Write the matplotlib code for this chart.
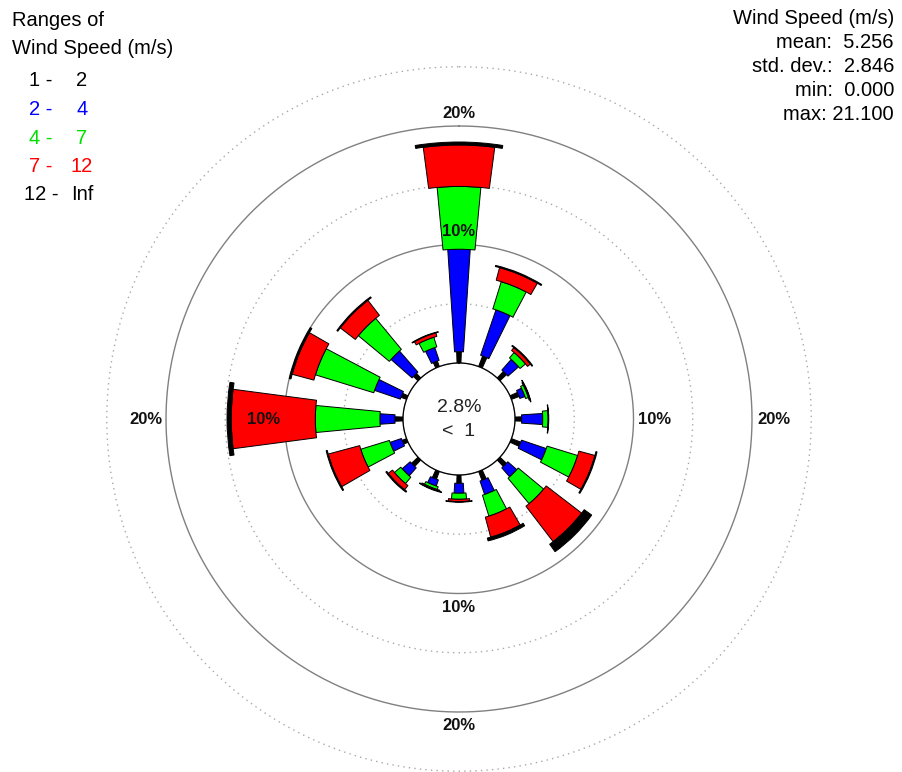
import numpy as np
import matplotlib.pyplot as plt

plt.rcParams['font.family'] = ['Liberation Sans', 'DejaVu Sans']

# wind rose data (% of hours), 16 directions clockwise from north
directions = ['N', 'NNE', 'NE', 'ENE', 'E', 'ESE', 'SE', 'SSE',
              'S', 'SSW', 'SW', 'WSW', 'W', 'WNW', 'NW', 'NNW']
calm_pct = 2.8
calm_label = '<  1'

class_labels = ['1 -    2', '2 -    4', '4 -    7', '7 -  12', '12 -  Inf']
class_colors = ['black', '#0000ff', '#00ff00', '#ff0000', 'black']
legend_colors = ['black', '#0000ff', '#00e000', '#ff0000', 'black']

freq_1_2 = [0.95, 0.95, 0.76, 0.69, 0.56, 0.84, 0.75, 0.80,
            0.70, 0.70, 0.75, 0.40, 0.68, 0.50, 0.53, 0.50]
freq_2_4 = [8.65, 4.05, 1.20, 0.46, 1.78, 2.21, 1.01, 1.20,
            0.84, 0.55, 0.90, 1.02, 1.27, 2.30, 2.37, 1.14]
freq_4_7 = [5.30, 2.40, 0.60, 0.25, 0.47, 2.70, 2.79, 1.85,
            0.51, 0.25, 0.70, 2.53, 5.45, 5.15, 3.40, 0.85]
freq_7_12 = [3.50, 1.10, 0.31, 0.08, 0.00, 1.40, 3.77, 1.75,
             0.20, 0.10, 0.45, 2.75, 7.10, 1.90, 1.60, 0.31]
freq_12_inf = [0.25, 0.10, 0.08, 0.04, 0.04, 0.10, 0.78, 0.25,
               0.05, 0.05, 0.10, 0.10, 0.35, 0.15, 0.10, 0.05]

stats_lines = ['Wind Speed (m/s)', 'mean:  5.256', 'std. dev.:  2.846',
               'min:  0.000', 'max: 21.100']

solid_rings = [10, 20]
dotted_rings = [5, 15, 25]

# layout (pixels)
W, H = 903, 772
cx, cy = 459, 419
px_per_pct = 11.85
calm_px = 56
r_max = 25

fig = plt.figure(figsize=(W / 100, H / 100), dpi=100)
r0 = calm_px / px_per_pct
rad = (r_max + r0) * px_per_pct
ax = fig.add_axes([(cx - rad) / W, (H - cy - rad) / H, 2 * rad / W, 2 * rad / H],
                  projection='polar')
ax.set_theta_zero_location('N')
ax.set_theta_direction(-1)
ax.set_rorigin(-r0)
ax.set_ylim(0, r_max)
ax.grid(False)
ax.set_xticks([])
ax.set_yticks([])
for sp in ax.spines.values():
    sp.set_visible(False)
ax.patch.set_visible(False)

ring = np.linspace(0, 2 * np.pi, 400)
ax.plot(ring, np.zeros_like(ring), color='#808080', lw=1, clip_on=False)
for r in solid_rings:
    ax.plot(ring, np.full_like(ring, r), color='#808080', lw=1, clip_on=False)
for r in dotted_rings:
    ax.plot(ring, np.full_like(ring, r), color='#a8a8a8', lw=1,
            linestyle=(0, (1, 3)), clip_on=False)

theta = np.deg2rad(np.arange(len(directions)) * 22.5)
widths = np.deg2rad([4, 7.6, 10.8, 15, 18.2])
classes = [freq_1_2, freq_2_4, freq_4_7, freq_7_12, freq_12_inf]
bottom = np.zeros(len(directions))
for vals, col, w in zip(classes, class_colors, widths):
    vals = np.array(vals)
    ax.bar(theta, vals, width=w, bottom=bottom, color=col,
           edgecolor='black', linewidth=0.7, zorder=3)
    bottom += vals

# ring labels
for r in solid_rings:
    lab = f'{r}%'
    kw = dict(textcoords='offset pixels', fontsize=12, fontweight='bold',
              color='#111111', annotation_clip=False, zorder=5)
    ax.annotate(lab, (0, r), xytext=(0, 5), ha='center', va='bottom', **kw)
    ax.annotate(lab, (np.pi, r), xytext=(0, -6), ha='center', va='top', **kw)
    ax.annotate(lab, (np.pi / 2, r), xytext=(5, 0), ha='left', va='center', **kw)
    ax.annotate(lab, (3 * np.pi / 2, r), xytext=(-4, 0), ha='right', va='center', **kw)

# calm in the centre
ax.text(0.5, 0.5 + 11 / (2 * rad), f'{calm_pct}%', transform=ax.transAxes,
        ha='center', va='center', fontsize=14, color='#222222')
ax.text(0.5, 0.5 - 13 / (2 * rad), calm_label, transform=ax.transAxes,
        ha='center', va='center', fontsize=14, color='#222222')

# legend block
fig.text(12 / W, 1 - 20 / H, 'Ranges of', fontsize=14.5, va='center')
fig.text(12 / W, 1 - 49 / H, 'Wind Speed (m/s)', fontsize=14.5, va='center')
for i, (lab, col) in enumerate(zip(class_labels, legend_colors)):
    lo, hi = lab.split('-')
    y = 1 - (81 + i * 28.5) / H
    fig.text(41 / W, y, lo.strip() + ' -', fontsize=14.5, color=col,
             ha='center', va='center')
    fig.text(82 / W, y, hi.strip(), fontsize=14.5, color=col,
             ha='center', va='center')

# stats block
for i, line in enumerate(stats_lines):
    fig.text(894 / W, 1 - (19 + i * 24) / H, line, fontsize=14.5,
             ha='right', va='center')

fig.savefig('out.png', dpi=100)
